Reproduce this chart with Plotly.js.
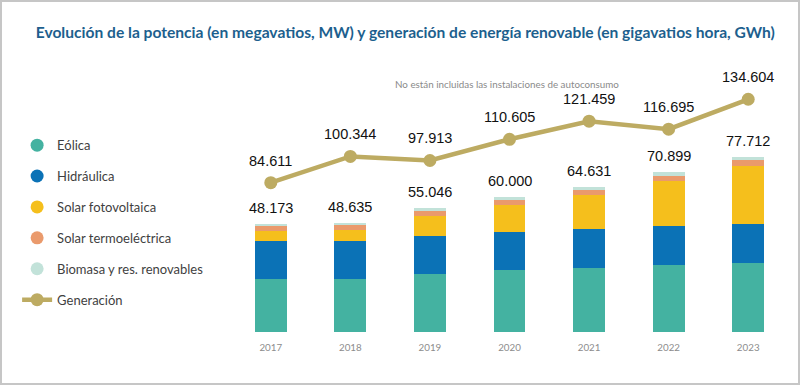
<!DOCTYPE html>
<html>
<head>
<meta charset="utf-8">
<script src="https://cdn.plot.ly/plotly-3.0.1.min.js"></script>
<style>
  html, body { margin: 0; padding: 0; background: #ffffff; }
  #wrap { position: relative; width: 801px; height: 391px; }
  #chart { position: absolute; left: 0; top: 0; width: 801px; height: 391px; }
  #frame { position: absolute; left: 0; top: 0; width: 796px; height: 381px;
           border: 2px solid #c6c6c6; pointer-events: none; }
</style>
</head>
<body>
<div id="wrap">
  <div id="chart"></div>
  <div id="frame"></div>
</div>
<script>
// ---- Data (potencia en miles de MW; generación en miles de GWh) ----
const years = ['2017', '2018', '2019', '2020', '2021', '2022', '2023'];
const eolica      = [23.4, 23.5, 25.6, 27.4, 28.5, 29.9, 30.7];
const hidraulica  = [17.1, 17.0, 17.1, 17.1, 17.1, 17.1, 17.1];
const solarFV     = [4.4, 4.7, 8.9, 12.0, 15.4, 20.2, 26.2];
const solarTermo  = [2.3, 2.3, 2.3, 2.3, 2.3, 2.3, 2.3];
const biomasa     = [0.97, 1.1, 1.1, 1.2, 1.3, 1.4, 1.4];
const potenciaTotal = [48.173, 48.635, 55.046, 60.000, 64.631, 70.899, 77.712];
const generacion    = [84.611, 100.344, 97.913, 110.605, 121.459, 116.695, 134.604];

const seriesNames  = ['Eólica', 'Hidráulica', 'Solar fotovoltaica', 'Solar termoeléctrica', 'Biomasa y res. renovables'];
const seriesValues = [eolica, hidraulica, solarFV, solarTermo, biomasa];
const seriesColors = ['#44b2a1', '#0b72b6', '#f5bf1c', '#ea9a6c', '#c2e2d9'];
const genColor = '#bdab62';

const traces = [];
seriesNames.forEach((name, i) => {
  traces.push({
    type: 'bar', x: years, y: seriesValues[i], name: name,
    legendgroup: 'g' + i, showlegend: false,
    marker: { color: seriesColors[i], line: { width: 0 } }
  });
});
// legend-only entries with round symbols, on a hidden helper axis (point kept off-range)
seriesNames.forEach((name, i) => {
  traces.push({
    type: 'scatter', mode: 'markers', x: [-10], y: [-10], name: name,
    xaxis: 'x2', yaxis: 'y3', cliponaxis: true,
    legendgroup: 'g' + i, showlegend: true,
    marker: { color: seriesColors[i], size: 13, symbol: 'circle' }
  });
});
traces.push({
  type: 'scatter', mode: 'lines+markers', x: years, y: generacion, name: 'Generación',
  yaxis: 'y2', legendgroup: 'gen',
  line: { color: genColor, width: 4.5 },
  marker: { color: genColor, size: 13 }
});

const fmt = v => v.toFixed(3);
const annotations = [];
years.forEach((yr, i) => {
  annotations.push({
    x: i, y: potenciaTotal[i], xref: 'x', yref: 'y', text: fmt(potenciaTotal[i]),
    showarrow: false, yanchor: 'middle', yshift: 16,
    font: { family: 'Liberation Sans, Arial, sans-serif', size: 14.5, color: '#111111' }
  });
  annotations.push({
    x: i, y: generacion[i], xref: 'x', yref: 'y2', text: fmt(generacion[i]),
    showarrow: false, yanchor: 'middle', yshift: 22,
    font: { family: 'Liberation Sans, Arial, sans-serif', size: 14.5, color: '#111111' }
  });
});
annotations.push({
  text: 'No están incluidas las instalaciones de autoconsumo',
  xref: 'paper', yref: 'paper', x: 0.4955, y: 0.912, xanchor: 'center', yanchor: 'middle',
  showarrow: false, font: { family: 'Lato, sans-serif', size: 9.8, color: '#8a8a8a' }
});

const layout = {
  width: 801, height: 391,
  margin: { l: 231, r: 13, t: 60, b: 59, pad: 0 },
  paper_bgcolor: '#ffffff', plot_bgcolor: '#ffffff',
  title: {
    text: '<b>Evolución de la potencia (en megavatios, MW) y generación de energía renovable (en gigavatios hora, GWh)</b>',
    x: 0.506, xanchor: 'center', y: 1 - 33 / 391, yanchor: 'middle', xref: 'container', yref: 'container',
    font: { family: 'Lato, sans-serif', size: 15.6, color: '#1d5f8e' }
  },
  barmode: 'stack', bargap: 0.6,
  xaxis: {
    type: 'category', categoryorder: 'array', categoryarray: years,
    range: [-0.5, years.length - 0.5],
    showgrid: false, showline: false, zeroline: false, ticks: '',
    ticklabelstandoff: 8,
    tickfont: { family: 'Lato, sans-serif', size: 9.8, color: '#8c8c8c' }
  },
  xaxis2: { range: [0, 1], visible: false, overlaying: 'x', fixedrange: true },
  yaxis: { range: [0, 120.9], visible: false, fixedrange: true },
  yaxis2: { range: [-4.92, 158.15], overlaying: 'y', visible: false, fixedrange: true },
  yaxis3: { range: [0, 1], overlaying: 'y', visible: false, fixedrange: true },
  showlegend: true,
  legend: {
    x: -0.384, xanchor: 'left', y: 0.742, yanchor: 'top',
    traceorder: 'grouped', tracegroupgap: 11,
    font: { family: 'Lato, sans-serif', size: 13, color: '#3f3f3f' },
    bgcolor: 'rgba(0,0,0,0)'
  },
  annotations: annotations
};

Plotly.newPlot('chart', traces, layout, { displayModeBar: false, staticPlot: true });
</script>
</body>
</html>
